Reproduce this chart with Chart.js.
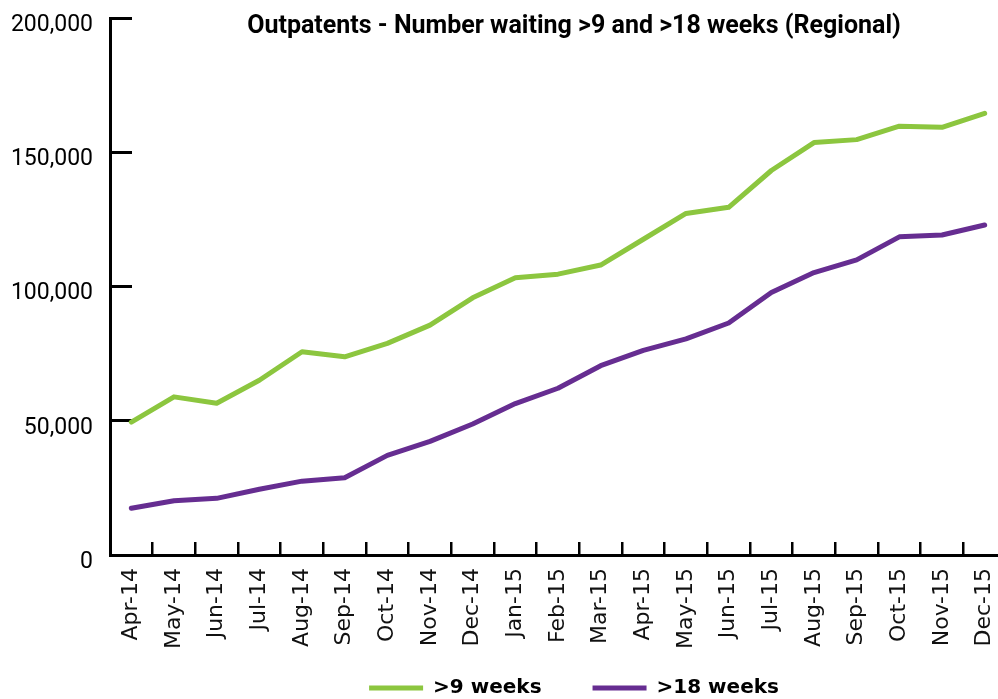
<!DOCTYPE html>
<html>
<head>
<meta charset="utf-8">
<script src="https://cdn.jsdelivr.net/npm/chart.js@4/dist/chart.umd.min.js"></script>
<style>
  html, body { margin: 0; padding: 0; overflow: hidden; background: #ffffff; }
  #wrap { width: 998px; height: 699px; overflow: hidden; position: relative; }
  canvas { display: block; }
</style>
</head>
<body>
<div id="wrap"><canvas id="c" width="1148" height="699"></canvas></div>
<script>
const categories = ['Apr-14','May-14','Jun-14','Jul-14','Aug-14','Sep-14','Oct-14','Nov-14','Dec-14',
  'Jan-15','Feb-15','Mar-15','Apr-15','May-15','Jun-15','Jul-15','Aug-15','Sep-15','Oct-15','Nov-15','Dec-15'];
const over9Weeks = [49500, 58900, 56500, 65100, 75700, 73800, 78800, 85600, 95800, 103300, 104600,
  108000, 117600, 127200, 129500, 143200, 153600, 154700, 159700, 159300, 164500];
const over18Weeks = [17400, 20200, 21100, 24500, 27500, 28800, 37100, 42300, 48800, 56400, 62100,
  70500, 76200, 80500, 86400, 97800, 105200, 109900, 118500, 119200, 122900];
const seriesNames = ['>9 weeks', '>18 weeks'];
const yTicks = [0, 50000, 100000, 150000, 200000];
const chartTitle = 'Outpatents - Number waiting >9 and >18 weeks (Regional)';

Chart.defaults.font.family = 'Roboto, "DejaVu Sans", sans-serif';
Chart.defaults.color = '#000000';

new Chart(document.getElementById('c'), {
  type: 'line',
  data: {
    labels: categories,
    datasets: [
      { label: seriesNames[0], data: over9Weeks, borderColor: '#8CC63F', backgroundColor: '#8CC63F',
        borderWidth: 5, pointRadius: 0, tension: 0, borderJoinStyle: 'round', borderCapStyle: 'round' },
      { label: seriesNames[1], data: over18Weeks, borderColor: '#662D91', backgroundColor: '#662D91',
        borderWidth: 5, pointRadius: 0, tension: 0, borderJoinStyle: 'round', borderCapStyle: 'round' }
    ]
  },
  options: {
    responsive: false,
    animation: false,
    events: [],
    layout: { padding: 0 },
    plugins: {
      title: {
        display: true,
        text: chartTitle,
        color: '#000000',
        font: { family: 'Roboto', size: 25, weight: 'bold', lineHeight: 1.2 },
        padding: { top: 12, bottom: -24 }
      },
      legend: {
        display: true,
        position: 'bottom',
        maxHeight: 48,
        title: { display: true, text: '', font: { size: 1, lineHeight: 1 }, padding: { top: 0, bottom: -25 } },
        labels: {
          usePointStyle: true,
          pointStyle: 'line',
          pointStyleWidth: 54,
          padding: 51,
          color: '#000000',
          font: { family: '"DejaVu Sans"', size: 20, weight: 'bold' }
        }
      },
      tooltip: { enabled: false }
    },
    scales: {
      x: {
        type: 'category',
        offset: true,
        grid: { display: true, drawOnChartArea: false, drawTicks: true, tickLength: -13,
                lineWidth: 2.5, color: '#000000', offset: true },
        border: { display: true, width: 3, color: '#000000' },
        ticks: { autoSkip: false, minRotation: 90, maxRotation: 90, padding: 26,
                 color: '#111111', font: { family: '"DejaVu Sans"', size: 22 } },
        afterFit(s) { s.height = 96; s.paddingLeft = 0; s.paddingRight = 0; }
      },
      y: {
        type: 'linear',
        min: 0,
        max: 200000,
        afterBuildTicks(s) { s.ticks = yTicks.map(v => ({ value: v })); },
        grid: { display: true, drawOnChartArea: false, drawTicks: true, tickLength: -22,
                lineWidth: 3, color: '#000000' },
        border: { display: true, width: 3, color: '#000000' },
        ticks: { padding: 39, labelOffset: 7, color: '#000000',
                 font: { family: 'Roboto', size: 23 },
                 callback: v => Number(v).toLocaleString('en-US') },
        afterFit(s) { s.width = 110; s.paddingTop = 0; s.paddingBottom = 0; }
      },
      yRight: {
        type: 'linear',
        position: 'right',
        display: true,
        grid: { display: false, drawTicks: false },
        border: { display: false },
        ticks: { display: false },
        afterFit(s) { s.width = 142; s.paddingTop = 0; s.paddingBottom = 0; }
      }
    }
  }
});
</script>
</body>
</html>
